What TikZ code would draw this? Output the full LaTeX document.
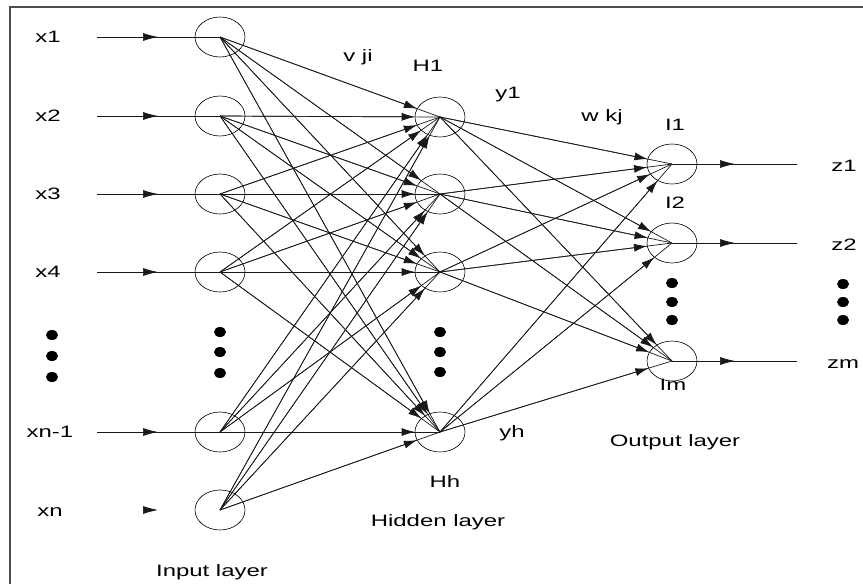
\documentclass[tikz,border=0pt]{standalone}
\usepackage{fontspec}
\setmainfont{Liberation Sans}[FakeStretch=1.45]
\usetikzlibrary{shapes.geometric,arrows.meta}
\begin{document}
\begin{tikzpicture}[x=1pt,y=-1pt,
  neuron/.style={ellipse, draw, line width=0.6pt, minimum width=50pt, minimum height=40pt, inner sep=0pt},
  link/.style={line width=0.7pt, draw=black!90},
  bigtip/.style={-{Latex[length=15pt,width=8pt]}},
  smalltip/.style={-{Latex[length=13pt,width=8pt]}},
  blob/.style={ellipse, fill=black, minimum width=12pt, minimum height=10pt, inner sep=0pt},
  lbl/.style={font=\fontsize{16.5}{19}\selectfont, inner sep=0pt},
  frame/.style={line width=1.6pt, draw=black!70}]
\useasboundingbox (0,0) rectangle (863,584);

% frame (top and left edges)
\draw[frame] (10,584) -- (10,7) -- (863,7);

% input layer
\foreach \n/\y in {1/37,2/116,3/194,4/272,5/432,6/510}
  \node[neuron] (i\n) at (220,\y) {};
% hidden layer
\foreach \n/\y in {1/117,2/194,3/272,4/432}
  \node[neuron] (h\n) at (440,\y) {};
% output layer
\foreach \n/\y in {1/164,2/243,3/361}
  \node[neuron] (o\n) at (672,\y) {};

% input feeds
\foreach \n/\y in {1/37,2/116,3/194,4/272,5/432} {
  \coordinate (s\n) at (97,\y);
  \coordinate (a\n) at (158,\y);
  \draw[link] (s\n) -- (i\n.center);
  \draw[link,bigtip] (s\n) -- (a\n);
}
\coordinate (s6) at (143,510);
\coordinate (a6) at (158,510);
\draw[link,bigtip] (s6) -- (a6);

% input -> hidden weights
\foreach \i in {1,...,6}
  \foreach \h in {1,...,4} {
    \draw[link] (i\i.center) -- (h\h.center);
    \draw[link,smalltip] (i\i.center) -- (h\h);
  }

% hidden -> output weights
\foreach \h in {1,...,4}
  \foreach \k in {1,...,3} {
    \draw[link] (h\h.center) -- (o\k.center);
    \draw[link,smalltip] (h\h.center) -- (o\k);
  }

% outputs
\foreach \k/\y in {1/164,2/243,3/361} {
  \coordinate (e\k) at (797,\y);
  \coordinate (t\k) at (735,\y);
  \draw[link] (o\k.center) -- (e\k);
  \draw[link,bigtip] (o\k.center) -- (t\k);
}

% ellipsis dots
\foreach \y [count=\c] in {335,356,377} \node[blob] (dl\c) at (52,\y) {};
\foreach \y [count=\c] in {332,352,373} \node[blob] (di\c) at (220,\y) {};
\foreach \y [count=\c] in {332,352,372} \node[blob] (dh\c) at (440,\y) {};
\foreach \y [count=\c] in {283,302,320} \node[blob] (do\c) at (672,\y) {};
\foreach \y [count=\c] in {284,302,320} \node[blob] (dr\c) at (843,\y) {};

% labels
\node[lbl] (lx1) at (48,37) {x1};
\node[lbl] (lx2) at (48,116) {x2};
\node[lbl] (lx3) at (48,194) {x3};
\node[lbl] (lx4) at (48,272) {x4};
\node[lbl] (lx5) at (50,432) {xn-1};
\node[lbl] (lx6) at (50,512) {xn};
\node[lbl] (lv) at (358,57) {v ji};
\node[lbl] (lh1) at (428,66) {H1};
\node[lbl] (ly1) at (508,95) {y1};
\node[lbl] (lw) at (602,117) {w kj};
\node[lbl] (lo1) at (675,125) {I1};
\node[lbl] (lo2) at (675,203) {I2};
\node[lbl] (lo3) at (673,385) {Im};
\node[lbl] (lz1) at (844,166) {z1};
\node[lbl] (lz2) at (844,245) {z2};
\node[lbl] (lz3) at (843,364) {zm};
\node[lbl] (lyh) at (512,433) {yh};
\node[lbl] (lhh) at (445,482) {Hh};
\node[lbl] (lhid) at (438,522) {Hidden layer};
\node[lbl] (lout) at (675,442) {Output layer};
\node[lbl] (lin) at (212,572) {Input layer};
\end{tikzpicture}
\end{document}
